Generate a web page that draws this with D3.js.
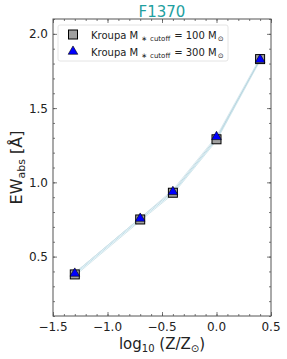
<!DOCTYPE html>
<html>
<head>
<meta charset="utf-8">
<script src="https://cdn.jsdelivr.net/npm/d3@7"></script>
<style>
  body { margin: 0; background: #fff; }
  svg text { font-family: "DejaVu Sans", sans-serif; }
</style>
</head>
<body>
<svg id="chart" width="287" height="359"></svg>
<script>
// log10(Z/Zsun) values
const metallicity = [-1.3, -0.7, -0.4, 0.0, 0.4];
// EW for the two cutoff masses
const ewCut100 = [0.38, 0.75, 0.93, 1.29, 1.83];
const ewCut300 = [0.39, 0.76, 0.94, 1.31, 1.83];
// the bundle of thin model lines behind the markers
const bandLines = [
    [0.37, 0.74, 0.92, 1.28, 1.82],
    [0.38, 0.75, 0.93, 1.29, 1.83],
    [0.39, 0.76, 0.94, 1.30, 1.83],
    [0.39, 0.76, 0.95, 1.31, 1.84]
];
const xTicks = [-1.5, -1.0, -0.5, 0.0, 0.5];
const yTicks = [0.5, 1.0, 1.5, 2.0];

const svg = d3.select("#chart");
const margin = {left: 53, right: 16, top: 19, bottom: 43};
const W = 287, H = 359;

const x = d3.scaleLinear().domain([-1.5, 0.5]).range([margin.left, W - margin.right]);
const y = d3.scaleLinear().domain([0.1, 2.1]).range([H - margin.bottom, margin.top]);

const axisColor = "#555";

// frame
svg.append("rect")
    .attr("x", x(-1.5)).attr("y", y(2.1))
    .attr("width", x(0.5) - x(-1.5)).attr("height", y(0.1) - y(2.1))
    .attr("fill", "none").attr("stroke", axisColor).attr("stroke-width", 1);

// ticks pointing inward, on all sides
const xMinor = d3.range(-1.5, 0.51, 0.1).map(v => +v.toFixed(2));
const yMinor = d3.range(0.1, 2.101, 0.1).map(v => +v.toFixed(2));

function drawAxis(axis, g, ticks, len) {
    g.call(axis.tickValues(ticks).tickSizeInner(-len).tickSizeOuter(0).tickFormat(""));
    g.select(".domain").remove();
    g.selectAll("line").attr("stroke", axisColor).attr("stroke-width", 0.8);
}

const gB = svg.append("g").attr("transform", `translate(0,${y(0.1)})`);
drawAxis(d3.axisBottom(x), gB.append("g"), xMinor, 2);
drawAxis(d3.axisBottom(x), gB.append("g"), xTicks, 4);
const gT = svg.append("g").attr("transform", `translate(0,${y(2.1)})`);
drawAxis(d3.axisTop(x), gT.append("g"), xMinor, 2);
drawAxis(d3.axisTop(x), gT.append("g"), xTicks, 4);
const gL = svg.append("g").attr("transform", `translate(${x(-1.5)},0)`);
drawAxis(d3.axisLeft(y), gL.append("g"), yMinor, 2);
drawAxis(d3.axisLeft(y), gL.append("g"), yTicks, 4);
const gR = svg.append("g").attr("transform", `translate(${x(0.5)},0)`);
drawAxis(d3.axisRight(y), gR.append("g"), yMinor, 2);
drawAxis(d3.axisRight(y), gR.append("g"), yTicks, 4);

// tick labels
svg.append("g").selectAll("text")
    .data(xTicks).enter().append("text")
    .attr("x", d => x(d)).attr("y", y(0.1) + 15)
    .attr("text-anchor", "middle")
    .attr("font-size", 12).attr("fill", "#222")
    .text(d => d3.format(".1f")(d).replace("-", "\u2212"));

svg.append("g").selectAll("text")
    .data(yTicks).enter().append("text")
    .attr("x", x(-1.5) - 5).attr("y", d => y(d) + 4.5)
    .attr("text-anchor", "end")
    .attr("font-size", 12).attr("fill", "#222")
    .text(d => d3.format(".1f")(d));

// model lines
const line = d3.line().x((d, i) => x(metallicity[i])).y(d => y(d));
const bandColors = ["#c8dfe6", "#add8e6", "#b4cfd8", "#cfe5ec"];
svg.append("g").selectAll("path")
    .data(bandLines).enter().append("path")
    .attr("d", line)
    .attr("fill", "none")
    .attr("stroke", (d, i) => bandColors[i])
    .attr("stroke-width", 0.8);

// markers
const sq = 9;
svg.append("g").selectAll("rect")
    .data(ewCut100).enter().append("rect")
    .attr("x", (d, i) => x(metallicity[i]) - sq / 2)
    .attr("y", d => y(d) - sq / 2)
    .attr("width", sq).attr("height", sq)
    .attr("fill", "#a0a0a0").attr("stroke", "#000").attr("stroke-width", 1);

const tri = d3.symbol().type(d3.symbolTriangle).size(40);
svg.append("g").selectAll("path")
    .data(ewCut300).enter().append("path")
    .attr("d", tri)
    .attr("transform", (d, i) => `translate(${x(metallicity[i])},${y(d) + 0.5})`)
    .attr("fill", "#0000ff").attr("stroke", "#000").attr("stroke-width", 0.6);

// legend
const lg = svg.append("g");
lg.append("rect")
    .attr("x", 58).attr("y", 25).attr("width", 170).attr("height", 36)
    .attr("rx", 2).attr("fill", "#fff").attr("fill-opacity", 0.8)
    .attr("stroke", "#ddd").attr("stroke-width", 0.8);
lg.append("rect")
    .attr("x", 73 - sq / 2).attr("y", 34.5 - sq / 2).attr("width", sq).attr("height", sq)
    .attr("fill", "#a0a0a0").attr("stroke", "#000").attr("stroke-width", 1);
lg.append("path").attr("d", tri)
    .attr("transform", "translate(73,51.5)")
    .attr("fill", "#0000ff").attr("stroke", "#000").attr("stroke-width", 0.6);

const legendLabels = ["100", "300"];
legendLabels.forEach((m, i) => {
    const t = lg.append("text")
        .attr("x", 91).attr("y", 38.5 + i * 17)
        .attr("font-size", 10).attr("fill", "#222");
    t.append("tspan").text("Kroupa M");
    t.append("tspan").attr("font-size", 7).attr("dy", 2).attr("dx", 3).text("\u2217");
    t.append("tspan").attr("font-size", 7).attr("dx", 3).text("cutoff");
    t.append("tspan").attr("dy", -2).attr("dx", 4).text("= " + m + " M");
    t.append("tspan").attr("font-size", 7).attr("dy", 2).attr("dx", 1).text("\u2299");
});

// title
svg.append("text")
    .attr("x", (x(-1.5) + x(0.5)) / 2).attr("y", 17)
    .attr("text-anchor", "middle")
    .attr("font-size", 15).attr("fill", "#1fa0a0")
    .text("F1370");

// x label
const xl = svg.append("text")
    .attr("x", (x(-1.5) + x(0.5)) / 2).attr("y", 349)
    .attr("text-anchor", "middle")
    .attr("font-size", 15).attr("fill", "#222");
xl.append("tspan").text("log");
xl.append("tspan").attr("font-size", 10).attr("dy", 3).text("10");
xl.append("tspan").attr("dy", -3).text(" (Z/Z");
xl.append("tspan").attr("font-size", 10).attr("dy", 3).text("\u2299");
xl.append("tspan").attr("dy", -3).text(")");

// y label
const yl = svg.append("text")
    .attr("transform", `translate(22,${(y(0.1) + y(2.1)) / 2}) rotate(-90)`)
    .attr("text-anchor", "middle")
    .attr("font-size", 16).attr("fill", "#222");
yl.append("tspan").text("EW");
yl.append("tspan").attr("font-size", 11).attr("dy", 3).text("abs");
yl.append("tspan").attr("dy", -3).text(" [Å]");
</script>
</body>
</html>
